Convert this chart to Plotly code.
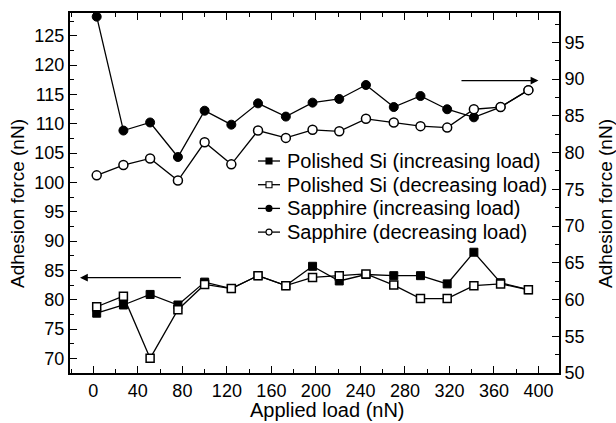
import plotly.graph_objects as go

# Applied load (nN) at each measurement
load = [3, 27, 51, 76, 100, 124, 148, 173, 197, 221, 245, 270, 294, 318, 342, 366, 391]

# Polished Si adhesion force (nN), left axis
si_inc = [77.7, 79.1, 80.9, 79.1, 83.0, 81.9, 84.1, 82.4, 85.7, 83.2, 84.3, 84.1, 84.1, 82.7, 88.1, 82.9, 81.7]
si_dec = [78.8, 80.6, 70.0, 78.3, 82.6, 81.9, 84.1, 82.4, 83.8, 84.1, 84.4, 82.5, 80.2, 80.2, 82.4, 82.7, 81.7]

# Sapphire adhesion force (nN), right axis
sa_inc = [98.5, 83.0, 84.1, 79.4, 85.7, 83.8, 86.7, 84.9, 86.8, 87.3, 89.2, 86.2, 87.7, 85.9, 84.8, 86.2, 88.5]
sa_dec = [76.9, 78.3, 79.2, 76.2, 81.4, 78.4, 83.0, 82.0, 83.1, 82.9, 84.6, 84.1, 83.6, 83.4, 85.9, 86.2, 88.5]

left_ticks = [70, 75, 80, 85, 90, 95, 100, 105, 110, 115, 120, 125]
right_ticks = [50, 55, 60, 65, 70, 75, 80, 85, 90, 95]
x_ticks = [0, 40, 80, 120, 160, 200, 240, 280, 320, 360, 400]

FONT = "Liberation Sans, Arial, sans-serif"
BLACK = "#000000"
TICK_SIZE = 18
TEXT_SIZE = 20
YTITLE_SIZE = 19

series = [
    ("Polished Si (increasing load)", si_inc, "square", BLACK, "y", 8),
    ("Polished Si (decreasing load)", si_dec, "square", "white", "y", 8),
    ("Sapphire (increasing load)", sa_inc, "circle", BLACK, "y2", 9),
    ("Sapphire (decreasing load)", sa_dec, "circle", "white", "y2", 9),
]

# Plot-area geometry (pixels) used to place the legend and axis titles
W, H = 616, 423
ML, MR, MT, MB = 70, 57, 13, 50
PW, PH = W - ML - MR, H - MT - MB


def px_to_paper(px, py):
    return (px - ML) / PW, (H - MB - py) / PH


fig = go.Figure()
line = dict(color=BLACK, width=1.3)
for name, vals, sym, fill, ax, size in series:
    edge = 1 if fill == BLACK else 1.5
    fig.add_trace(go.Scatter(
        x=load, y=vals, mode="lines+markers", name=name, showlegend=False,
        line=line, marker=dict(symbol=sym, size=size, color=fill, line=dict(color=BLACK, width=edge)),
        yaxis=ax, cliponaxis=False))

# Legend: short line with a small symbol, followed by the series name
legend_x, legend_y0, legend_dy = 258, 161, 23.7
for i, (name, vals, sym, fill, ax, size) in enumerate(series):
    py = legend_y0 + i * legend_dy
    xa, ya = px_to_paper(legend_x, py)
    xb, _ = px_to_paper(legend_x + 22, py)
    xm, _ = px_to_paper(legend_x + 11, py)
    fig.add_shape(type="line", xref="paper", yref="paper", x0=xa, x1=xb, y0=ya, y1=ya,
                  line=dict(color=BLACK, width=1.3))
    fig.add_shape(type="rect" if sym == "square" else "circle",
                  xref="paper", yref="paper", xsizemode="pixel", ysizemode="pixel",
                  xanchor=xm, yanchor=ya, x0=-3, x1=3, y0=-3, y1=3,
                  fillcolor=fill, line=dict(color=BLACK, width=1.1))
    xt, _ = px_to_paper(legend_x + 27, py)
    fig.add_annotation(x=xt, y=ya, xref="paper", yref="paper", xanchor="left", yanchor="middle",
                       text=name, showarrow=False, font=dict(family=FONT, size=TEXT_SIZE, color=BLACK))

# Axis titles
titles = [
    ("Applied load (nN)", 327, 410, 0, TEXT_SIZE),
    ("Adhesion force (nN)", 17, 204, -90, YTITLE_SIZE),
    ("Adhesion force (nN)", 605, 204, -90, YTITLE_SIZE),
]
for text, px, py, angle, size in titles:
    tx, ty = px_to_paper(px, py)
    fig.add_annotation(x=tx, y=ty, xref="paper", yref="paper", xanchor="center", yanchor="middle",
                       text=text, textangle=angle, showarrow=False,
                       font=dict(family=FONT, size=size, color=BLACK))

axis_common = dict(
    showline=True, linecolor=BLACK, linewidth=2,
    ticks="inside", ticklen=7, tickwidth=1.2, tickcolor=BLACK,
    showgrid=False, zeroline=False, automargin=False,
    tickfont=dict(family=FONT, size=TICK_SIZE, color=BLACK),
)
minor = dict(ticks="inside", ticklen=4, tickcolor=BLACK, tickwidth=1.2)

fig.update_layout(
    width=W, height=H,
    margin=dict(l=ML, r=MR, t=MT, b=MB),
    paper_bgcolor="white", plot_bgcolor="white",
    font=dict(family=FONT, size=TEXT_SIZE, color=BLACK),
    showlegend=False,
    xaxis=dict(
        **axis_common, range=[-21, 418.5], tickvals=x_ticks, mirror="ticks",
        minor=dict(dtick=20, tick0=0, **minor),
    ),
    yaxis=dict(
        **axis_common, range=[67.5, 128.9], tickvals=left_ticks,
        minor=dict(dtick=2.5, tick0=0, **minor),
    ),
    yaxis2=dict(
        **axis_common, range=[50, 99], tickvals=right_ticks, overlaying="y", side="right",
        minor=dict(dtick=2.5, tick0=0, **minor),
    ),
)

# Arrows pointing to the axis each pair of series belongs to
fig.add_annotation(x=-12, y=83.75, ax=80, ay=83.75, xref="x", yref="y", axref="x", ayref="y",
                   showarrow=True, arrowhead=2, arrowsize=1.2, arrowwidth=1.3, arrowcolor=BLACK, text="")
fig.add_annotation(x=400, y=89.8, ax=329.5, ay=89.8, xref="x", yref="y2", axref="x", ayref="y2",
                   showarrow=True, arrowhead=2, arrowsize=1.2, arrowwidth=1.3, arrowcolor=BLACK, text="")

fig.write_html("out.html")
